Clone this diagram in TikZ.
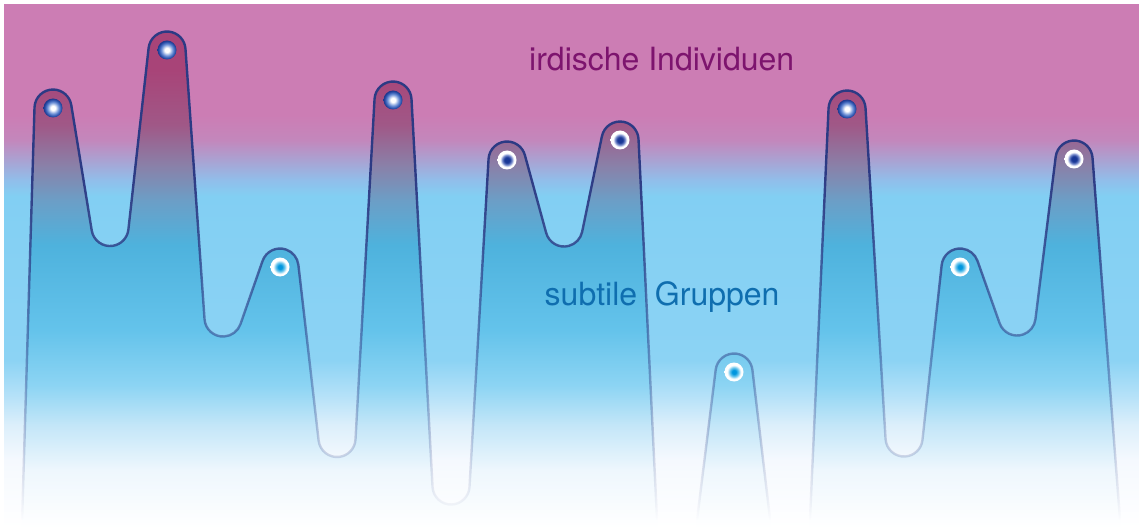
\documentclass[tikz,border=0pt]{standalone}
\usepackage{fontspec}
\newfontfamily\hv{TeX Gyre Heros}
\usetikzlibrary{calc,fadings}
% background colours
\definecolor{bga}{RGB}{245,249,254}
\definecolor{bgb}{RGB}{220,239,251}
\definecolor{bgc}{RGB}{180,225,248}
\definecolor{bgd}{RGB}{140,211,244}
\definecolor{bge}{RGB}{130,207,243}
\definecolor{bgee}{RGB}{145,190,234}
\definecolor{bgf}{RGB}{170,162,210}
\definecolor{bgg}{RGB}{195,135,188}
\definecolor{bgh}{RGB}{204,125,180}
% mountain colours
\definecolor{ma}{RGB}{238,247,253}
\definecolor{mb}{RGB}{195,230,248}
\definecolor{mc}{RGB}{140,212,243}
\definecolor{md}{RGB}{100,195,235}
\definecolor{me}{RGB}{78,178,221}
\definecolor{mf}{RGB}{108,158,198}
\definecolor{mg}{RGB}{138,128,168}
\definecolor{mh}{RGB}{160,88,135}
\definecolor{mi}{RGB}{168,68,120}
% dots
\definecolor{dAa}{RGB}{110,145,215}
\definecolor{dAb}{RGB}{45,85,175}
\definecolor{dAc}{RGB}{30,55,140}
\definecolor{dBa}{RGB}{25,55,150}
\definecolor{dBb}{RGB}{120,140,205}
\definecolor{dCa}{RGB}{0,150,222}
\definecolor{dCb}{RGB}{110,200,238}
% lines and text
\definecolor{strokeblue}{RGB}{44,58,132}
\definecolor{txtpurple}{RGB}{125,20,110}
\definecolor{txtblue}{RGB}{15,110,175}

\pgfdeclareverticalshading{bgshade}{100bp}{color(0bp)=(white); color(25bp)=(white);
 color(31.5bp)=(bga); color(34.85bp)=(bgb); color(37.72bp)=(bgc); color(41.06bp)=(bgd);
 color(56.74bp)=(bge); color(58.27bp)=(bgee); color(60.18bp)=(bgf); color(62.09bp)=(bgg);
 color(64.48bp)=(bgh); color(75bp)=(bgh); color(100bp)=(bgh)}
\pgfdeclareverticalshading{mshade}{100bp}{color(0bp)=(white); color(25bp)=(white);
 color(30.49bp)=(ma); color(34.75bp)=(mb); color(38.54bp)=(mc); color(43.75bp)=(md);
 color(51.8bp)=(me); color(56.06bp)=(mf); color(59.38bp)=(mg); color(63.16bp)=(mh);
 color(68.37bp)=(mi); color(75bp)=(mi); color(100bp)=(mi)}
\pgfdeclareradialshading{dotA}{\pgfpoint{0bp}{0bp}}{color(0bp)=(white); color(6bp)=(white);
 color(15bp)=(dAa); color(21bp)=(dAb); color(25bp)=(dAc); color(50bp)=(dAc)}
\pgfdeclareradialshading{dotB}{\pgfpoint{0bp}{0bp}}{color(0bp)=(dBa); color(7bp)=(dBa);
 color(13bp)=(dBb); color(18bp)=(white); color(25bp)=(white); color(50bp)=(white)}
\pgfdeclareradialshading{dotC}{\pgfpoint{0bp}{0bp}}{color(0bp)=(dCa); color(5bp)=(dCa);
 color(12bp)=(dCb); color(18bp)=(white); color(25bp)=(white); color(50bp)=(white)}
\tikzfading[name=strokefade, top color=transparent!0, bottom color=transparent!100]

\def\rr{18.5}
\newcommand\defpt[3]{\expandafter\xdef\csname #1x\endcsname{#2}%
 \expandafter\xdef\csname #1y\endcsname{#3}\coordinate (#1) at (#2,#3);}
\newcommand\getA[1]{\edef\tAx{\csname #1x\endcsname}\edef\tAy{\csname #1y\endcsname}}
\newcommand\getB[1]{\edef\tBx{\csname #1x\endcsname}\edef\tBy{\csname #1y\endcsname}}
% circle to circle (internal tangent); #1 orientation of A (1 ccw, -1 cw)
\newcommand\tcc[3]{\getA{#2}\getB{#3}%
 \pgfmathsetmacro\tAl{atan2(\tBy-\tAy,\tBx-\tAx)}%
 \pgfmathsetmacro\tDd{veclen(\tBx-\tAx,\tBy-\tAy)}%
 \pgfmathsetmacro\tUu{\tAl+(#1)*asin(2*\rr/\tDd)}%
 \pgfmathsetmacro\tOo{\tUu-(#1)*90}%
 \pgfmathsetmacro\tIi{\tUu+(#1)*90}%
 \expandafter\xdef\csname o#2\endcsname{\tOo}%
 \expandafter\xdef\csname i#3\endcsname{\tIi}}
% point #1 to peak #2 (cw)
\newcommand\tpc[2]{\getA{#1}\getB{#2}%
 \pgfmathsetmacro\tAl{atan2(\tBy-\tAy,\tBx-\tAx)}%
 \pgfmathsetmacro\tDd{veclen(\tBx-\tAx,\tBy-\tAy)}%
 \pgfmathsetmacro\tIi{\tAl+asin(\rr/\tDd)+90}%
 \expandafter\xdef\csname i#2\endcsname{\tIi}}
% peak #1 (cw) to point #2
\newcommand\tcp[2]{\getA{#1}\getB{#2}%
 \pgfmathsetmacro\tAl{atan2(\tBy-\tAy,\tBx-\tAx)}%
 \pgfmathsetmacro\tDd{veclen(\tBx-\tAx,\tBy-\tAy)}%
 \pgfmathsetmacro\tOo{\tAl-asin(\rr/\tDd)+90}%
 \expandafter\xdef\csname o#1\endcsname{\tOo}}
\newcommand\mkpk[1]{\edef\tIi{\csname i#1\endcsname}\edef\tOo{\csname o#1\endcsname}%
 \pgfmathsetmacro\tEe{\tIi-Mod(\tIi-\tOo,360)}\expandafter\xdef\csname e#1\endcsname{\tEe}}
\newcommand\mkvl[1]{\edef\tIi{\csname i#1\endcsname}\edef\tOo{\csname o#1\endcsname}%
 \pgfmathsetmacro\tEe{\tIi+Mod(\tOo-\tIi,360)}\expandafter\xdef\csname e#1\endcsname{\tEe}}

\def\mpath{(B0) -- ($(Pa)+(\iPa:\rr)$) arc[start angle=\iPa,end angle=\ePa,radius=\rr]
 -- ($(Va)+(\iVa:\rr)$) arc[start angle=\iVa,end angle=\eVa,radius=\rr]
 -- ($(Pb)+(\iPb:\rr)$) arc[start angle=\iPb,end angle=\ePb,radius=\rr]
 -- ($(Vb)+(\iVb:\rr)$) arc[start angle=\iVb,end angle=\eVb,radius=\rr]
 -- ($(Pc)+(\iPc:\rr)$) arc[start angle=\iPc,end angle=\ePc,radius=\rr]
 -- ($(Vc)+(\iVc:\rr)$) arc[start angle=\iVc,end angle=\eVc,radius=\rr]
 -- ($(Pd)+(\iPd:\rr)$) arc[start angle=\iPd,end angle=\ePd,radius=\rr]
 -- ($(Vd)+(\iVd:\rr)$) arc[start angle=\iVd,end angle=\eVd,radius=\rr]
 -- ($(Pe)+(\iPe:\rr)$) arc[start angle=\iPe,end angle=\ePe,radius=\rr]
 -- ($(Ve)+(\iVe:\rr)$) arc[start angle=\iVe,end angle=\eVe,radius=\rr]
 -- ($(Pf)+(\iPf:\rr)$) arc[start angle=\iPf,end angle=\ePf,radius=\rr]
 -- (B1) -- (B2)
 -- ($(Pg)+(\iPg:\rr)$) arc[start angle=\iPg,end angle=\ePg,radius=\rr]
 -- (B3) -- (B4)
 -- ($(Ph)+(\iPh:\rr)$) arc[start angle=\iPh,end angle=\ePh,radius=\rr]
 -- ($(Vh)+(\iVh:\rr)$) arc[start angle=\iVh,end angle=\eVh,radius=\rr]
 -- ($(Pi)+(\iPi:\rr)$) arc[start angle=\iPi,end angle=\ePi,radius=\rr]
 -- ($(Vi)+(\iVi:\rr)$) arc[start angle=\iVi,end angle=\eVi,radius=\rr]
 -- ($(Pj)+(\iPj:\rr)$) arc[start angle=\iPj,end angle=\ePj,radius=\rr]
 -- (B5) -- cycle}

\begin{document}
\begin{tikzpicture}[x=1pt,y=1pt,
  mstroke/.style={draw=strokeblue,line width=2.4pt,line join=round},
  lbl/.style={anchor=base west,inner sep=0pt,font=\hv\fontsize{32}{38}\selectfont}]
\useasboundingbox (0,0) rectangle (1139,528);
\clip (0,0) rectangle (1139,528);
% geometry (cap centres)
\defpt{B0}{21.5}{-12}
\defpt{Pa}{53}{420}
\defpt{Va}{110}{300.5}
\defpt{Pb}{167}{478}
\defpt{Vb}{223}{210}
\defpt{Pc}{280}{261}
\defpt{Vc}{337}{89.5}
\defpt{Pd}{393}{428}
\defpt{Vd}{451}{42}
\defpt{Pe}{507}{368}
\defpt{Ve}{564}{300}
\defpt{Pf}{620}{388}
\defpt{B1}{658}{-12}
\defpt{B2}{694.5}{-12}
\defpt{Pg}{734}{156}
\defpt{B3}{772.5}{-12}
\defpt{B4}{809}{-12}
\defpt{Ph}{847}{419}
\defpt{Vh}{904}{90}
\defpt{Pi}{960}{261}
\defpt{Vi}{1017}{211}
\defpt{Pj}{1074}{369}
\defpt{B5}{1121.5}{-12}
% tangents
\tpc{B0}{Pa}
\tcc{-1}{Pa}{Va}\tcc{1}{Va}{Pb}\tcc{-1}{Pb}{Vb}\tcc{1}{Vb}{Pc}
\tcc{-1}{Pc}{Vc}\tcc{1}{Vc}{Pd}\tcc{-1}{Pd}{Vd}\tcc{1}{Vd}{Pe}
\tcc{-1}{Pe}{Ve}\tcc{1}{Ve}{Pf}
\tcp{Pf}{B1}
\tpc{B2}{Pg}\tcp{Pg}{B3}
\tpc{B4}{Ph}
\tcc{-1}{Ph}{Vh}\tcc{1}{Vh}{Pi}\tcc{-1}{Pi}{Vi}\tcc{1}{Vi}{Pj}
\tcp{Pj}{B5}
\mkpk{Pa}\mkpk{Pb}\mkpk{Pc}\mkpk{Pd}\mkpk{Pe}\mkpk{Pf}\mkpk{Pg}\mkpk{Ph}\mkpk{Pi}\mkpk{Pj}
\mkvl{Va}\mkvl{Vb}\mkvl{Vc}\mkvl{Vd}\mkvl{Ve}\mkvl{Vh}\mkvl{Vi}
% background
\shade[shading=bgshade] (4,0) rectangle (1139,523);
% mountain fill
\begin{scope}
  \clip \mpath;
  \shade[shading=mshade] (0,0) rectangle (1139,528);
\end{scope}
% outline, fading downwards
\draw[mstroke,path fading=strokefade,fit fading=false,
  fading transform={shift={(569.5,183)},xscale=15,yscale=7}] \mpath;
% labels
\node[lbl,text=txtpurple] (t1) at (529,457) {irdische Individuen};
\node[lbl,text=txtblue] (t2) at (544.5,223) {subtile\ \ Gruppen};
% dots
\foreach \n in {Pa,Pb,Pd,Ph}{\shade[shading=dotA] (\n) circle (9.5);}
\foreach \n in {Pe,Pf,Pj}{\shade[shading=dotB] (\n) circle (9.5);}
\foreach \n in {Pc,Pg,Pi}{\shade[shading=dotC] (\n) circle (9.5);}
\end{tikzpicture}
\end{document}
